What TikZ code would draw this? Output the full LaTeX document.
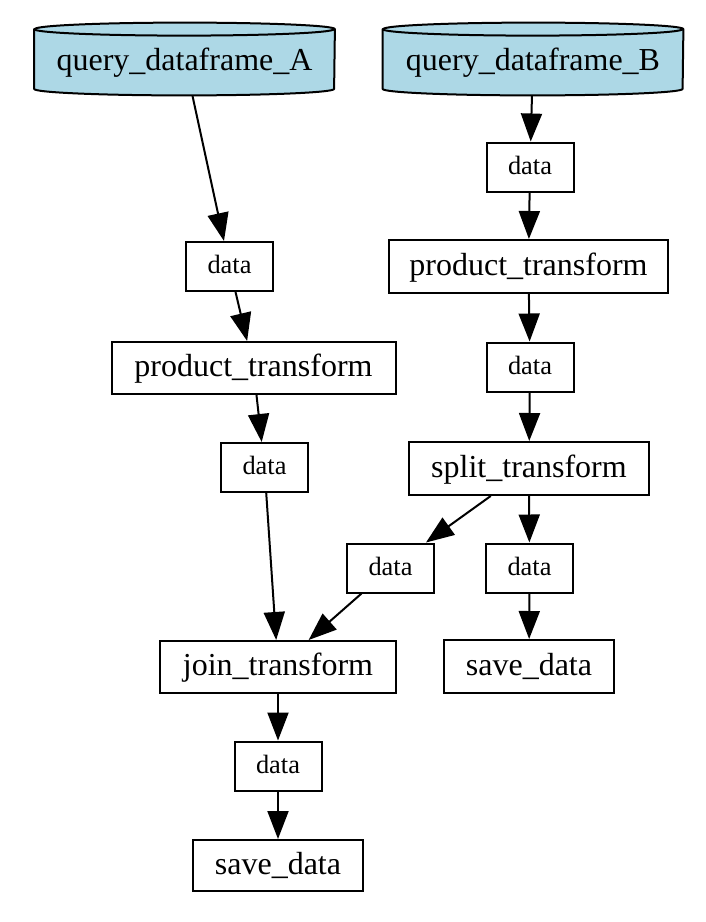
\documentclass[tikz,border=0pt]{standalone}
\usepackage{fontspec}
\setmainfont{Liberation Serif}
\usetikzlibrary{arrows.meta}
\definecolor{lblue}{RGB}{173,216,230}
\pgfdeclarelayer{bg}
\pgfsetlayers{bg,main}
\newcommand{\cylbg}[1]{%
  \begin{pgfonlayer}{bg}
  \filldraw[fill=lblue,line width=1pt,line join=round]
    ([yshift=-3.25pt]#1.north west) -- ([yshift=3.25pt]#1.south west)
    arc[start angle=180,end angle=360,x radius=75pt,y radius=3.25pt]
    -- ([yshift=-3.25pt]#1.north east)
    arc[start angle=0,end angle=180,x radius=75pt,y radius=3.25pt] -- cycle;
  \draw[line width=1pt] ([yshift=-3.25pt]#1.north west)
    arc[start angle=180,end angle=360,x radius=75pt,y radius=3.25pt];
  \end{pgfonlayer}}
\begin{document}
\begin{tikzpicture}[x=0.5pt,y=-0.5pt,
  box/.style={draw, line width=1pt, inner sep=0pt, text height=11.5pt, text depth=2.8pt, font=\fontsize{16}{19}\selectfont},
  dbox/.style={box, font=\fontsize{13.2}{16}\selectfont, text height=9.5pt, text depth=2.5pt, minimum width=43.5pt, minimum height=24.5pt},
  cyl/.style={inner sep=0pt, minimum width=150pt, minimum height=36pt, text height=13pt, text depth=2pt, font=\fontsize{16}{19}\selectfont},
  edge/.style={line width=1pt, -{Triangle[length=14pt,width=10.5pt]}}]
\useasboundingbox (0,0) rectangle (706,922);
\node[cyl] (qA) at (184.5,59) {query\_dataframe\_A};
\cylbg{qA}
\node[cyl] (qB) at (533,59) {query\_dataframe\_B};
\cylbg{qB}
\node[dbox] (dL1) at (229.5,266.5) {data};
\node[box, minimum width=142pt, minimum height=26pt] (pL) at (253.5,368) {product\_transform};
\node[dbox] (dL2) at (264.5,467.5) {data};
\node[box, minimum width=118pt, minimum height=26pt] (join) at (278,667) {join\_transform};
\node[dbox] (dJ) at (278,766) {data};
\node[box, minimum width=85pt, minimum height=25.5pt] (saveL) at (278,865.5) {save\_data};
\node[dbox] (dB1) at (530,167) {data};
\node[box, minimum width=139.5pt, minimum height=26.5pt] (pB) at (528.5,266.5) {product\_transform};
\node[dbox] (dB2) at (530,367) {data};
\node[box, minimum width=120pt, minimum height=26.5pt] (split) at (529,468.5) {split\_transform};
\node[dbox] (dM) at (390.5,568) {data};
\node[dbox] (dR) at (529.5,568) {data};
\node[box, minimum width=85pt, minimum height=26.5pt] (saveR) at (529,666.5) {save\_data};
\draw[edge] (qA) -- (dL1);
\draw[edge] (dL1) -- (pL);
\draw[edge] (pL) -- (dL2);
\draw[edge] (dL2) -- (join);
\draw[edge] (join) -- (dJ);
\draw[edge] (dJ) -- (saveL);
\draw[edge] (qB) -- (dB1);
\draw[edge] (dB1) -- (pB);
\draw[edge] (pB) -- (dB2);
\draw[edge] (dB2) -- (split);
\draw[edge] (split) -- (dM);
\draw[edge] (split) -- (dR);
\draw[edge] (dR) -- (saveR);
\draw[edge] (dM) -- (join);
\end{tikzpicture}
\end{document}
